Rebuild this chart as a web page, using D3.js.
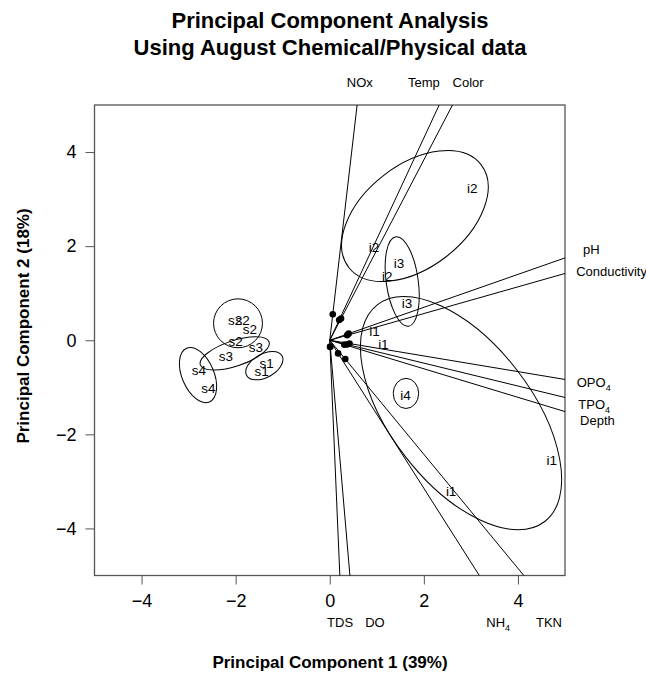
<!DOCTYPE html>
<html lang="en">
<head>
<meta charset="UTF-8">
<title>Principal Component Analysis</title>
<script src="https://d3js.org/d3.v7.min.js"></script>
<style>
  body { margin: 0; background: #fff; }
  text { font-family: "Liberation Sans", Arial, sans-serif; fill: #000; }
  .title { font-size: 22px; font-weight: bold; }
  .axis-title { font-size: 17px; font-weight: bold; }
  .tick text { font-size: 18px; }
  .tick line { stroke: #555; }
  .vector { stroke: #000; stroke-width: 1; }
  .ell { fill: none; stroke: #000; stroke-width: 1; }
  .site { font-size: 13.5px; }
  .varlab { font-size: 13px; }
</style>
</head>
<body>
<svg width="646" height="673"></svg>
<script>
// variable loadings (dots near the origin), lines run through them to the frame
const varNames = ["NOx", "Temp", "Color", "pH", "Conductivity", "OPO_4", "TPO_4", "Depth", "TDS", "DO", "NH_4", "TKN"];
const loadX = [0.064, 0.20, 0.24, 0.40, 0.37, 0.42, 0.37, 0.31, 0.006, 0.012, 0.178, 0.33];
const loadY = [0.55, 0.43, 0.46, 0.14, 0.105, -0.07, -0.09, -0.094, -0.14, -0.14, -0.28, -0.40];
// where the variable names sit, outside the frame (data units)
const varLabX = [0.64, 2.00, 2.94, 5.56, 5.99, 5.61, 5.62, 5.69, 0.22, 0.96, 3.58, 4.66];
const varLabY = [5.47, 5.47, 5.47, 1.94, 1.47, -0.89, -1.36, -1.70, -6.0, -6.0, -6.0, -6.0];

// group ellipses
const ellNames = ["i2", "i3", "i1", "i4", "s2", "s3", "s1", "s4"];
const ellCx = [1.81, 1.54, 2.79, 1.62, -1.95, -2.02, -1.39, -2.80];
const ellCy = [2.64, 1.25, -1.55, -1.13, 0.36, -0.28, -0.54, -0.74];
const ellA = [1.78, 0.96, 2.91, 0.32, 0.52, 0.77, 0.43, 0.62];
const ellB = [1.09, 0.34, 1.50, 0.27, 0.52, 0.27, 0.25, 0.34];
const ellAngle = [37.9, 98, -52.3, 90, 0, 18.4, 29, 113];

// site scores
const siteNames = ["i2", "i2", "i2", "i3", "i3", "i1", "i1", "i1", "i1", "i4",
                   "s2", "s2", "s2", "s2", "s3", "s3", "s4", "s4", "s1", "s1"];
const siteX = [3.03, 0.94, 1.22, 1.47, 1.64, 0.95, 1.14, 4.72, 2.58, 1.61,
               -2.01, -1.85, -1.70, -2.00, -1.57, -2.21, -2.78, -2.58, -1.34, -1.45];
const siteY = [3.24, 1.97, 1.35, 1.64, 0.79, 0.20, -0.08, -2.55, -3.20, -1.16,
               0.43, 0.43, 0.24, -0.03, -0.15, -0.35, -0.63, -1.02, -0.49, -0.65];

const xTicks = [-4, -2, 0, 2, 4];
const yTicks = [-4, -2, 0, 2, 4];

const svg = d3.select("svg");
const x = d3.scaleLinear().domain([-5, 5]).range([94.5, 565]);
const y = d3.scaleLinear().domain([-5, 5]).range([575.5, 105]);
const kx = x(1) - x(0);

// titles
svg.append("text").attr("class", "title").attr("x", 330).attr("y", 28)
  .attr("text-anchor", "middle").text("Principal Component Analysis");
svg.append("text").attr("class", "title").attr("x", 330).attr("y", 55)
  .attr("text-anchor", "middle").text("Using August Chemical/Physical data");

// axes
const xAxis = svg.append("g").attr("transform", `translate(0,${y(-5)})`)
  .call(d3.axisBottom(x).tickValues(xTicks).tickSize(9).tickPadding(10));
const yAxis = svg.append("g").attr("transform", `translate(${x(-5)},0)`)
  .call(d3.axisLeft(y).tickValues(yTicks).tickSize(9).tickPadding(9));
xAxis.select(".domain").remove();
yAxis.select(".domain").remove();
svg.selectAll(".tick text").attr("font-family", null).attr("font-size", null);

svg.append("text").attr("class", "axis-title").attr("x", 330).attr("y", 668)
  .attr("text-anchor", "middle").text("Principal Component 1 (39%)");
svg.append("text").attr("class", "axis-title")
  .attr("transform", "translate(29,326) rotate(-90)")
  .attr("text-anchor", "middle").text("Principal Component 2 (18%)");

// frame
svg.append("rect")
  .attr("x", x(-5)).attr("y", y(5))
  .attr("width", x(5) - x(-5)).attr("height", y(-5) - y(5))
  .attr("fill", "none").attr("stroke", "#555").attr("stroke-width", 1.3);

const vars = varNames.map((n, i) => ({ name: n, lx: loadX[i], ly: loadY[i], tx: varLabX[i], ty: varLabY[i] }));

// vectors extended to the frame
svg.append("g").selectAll("line").data(vars).join("line")
  .attr("class", "vector")
  .attr("x1", x(0)).attr("y1", y(0))
  .attr("x2", d => { const t = Math.min(5 / Math.abs(d.lx), 5 / Math.abs(d.ly)); return x(d.lx * t); })
  .attr("y2", d => { const t = Math.min(5 / Math.abs(d.lx), 5 / Math.abs(d.ly)); return y(d.ly * t); });

// ellipses
const ells = ellNames.map((n, i) => ({ name: n, cx: ellCx[i], cy: ellCy[i], a: ellA[i], b: ellB[i], ang: ellAngle[i] }));
svg.append("g").selectAll("ellipse").data(ells).join("ellipse")
  .attr("class", "ell")
  .attr("transform", d => `translate(${x(d.cx)},${y(d.cy)}) rotate(${-d.ang})`)
  .attr("rx", d => d.a * kx)
  .attr("ry", d => d.b * kx);

// loading dots
svg.append("g").selectAll("circle").data(vars).join("circle")
  .attr("cx", d => x(d.lx)).attr("cy", d => y(d.ly)).attr("r", 3.3).attr("fill", "#000");

// variable names, with subscript 4 where needed
const vl = svg.append("g").selectAll("text").data(vars).join("text")
  .attr("class", "varlab")
  .attr("x", d => x(d.tx)).attr("y", d => y(d.ty)).attr("dy", "0.35em")
  .attr("text-anchor", "middle");
vl.each(function (d) {
  const parts = d.name.split("_");
  const t = d3.select(this);
  t.append("tspan").text(parts[0]);
  if (parts[1]) t.append("tspan").attr("dy", 4).attr("font-size", 9).text(parts[1]);
});

// site labels
const sites = siteNames.map((n, i) => ({ name: n, x: siteX[i], y: siteY[i] }));
svg.append("g").selectAll("text").data(sites).join("text")
  .attr("class", "site")
  .attr("x", d => x(d.x)).attr("y", d => y(d.y)).attr("dy", "0.35em")
  .attr("text-anchor", "middle")
  .text(d => d.name);
</script>
</body>
</html>
